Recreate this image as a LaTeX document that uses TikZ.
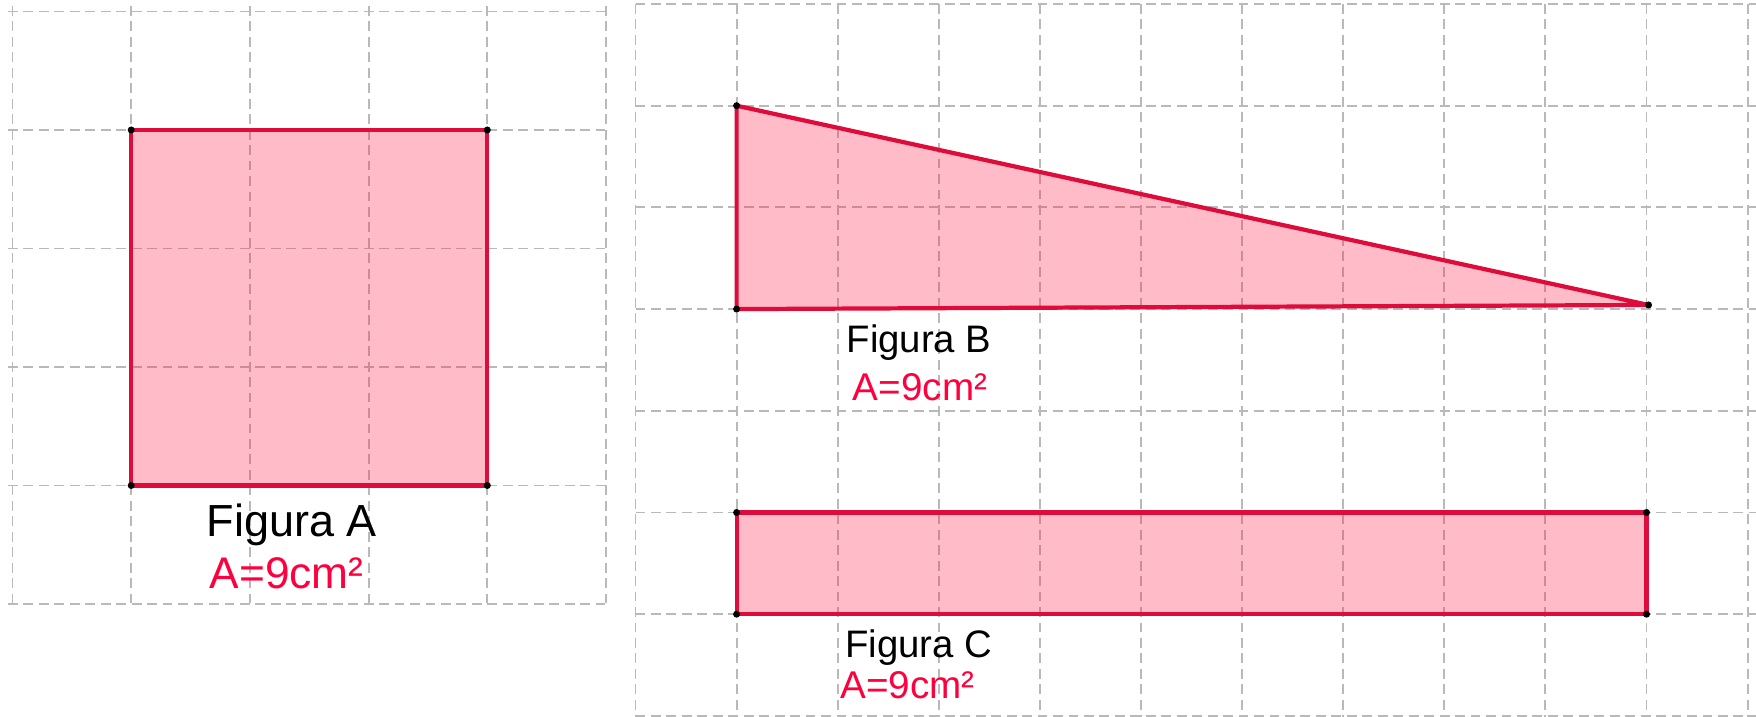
\documentclass[tikz,border=0pt]{standalone}
\usepackage{fontspec}
\setmainfont{Liberation Sans}
\usepackage{xcolor}
\usepackage{tikz}
\definecolor{shapered}{RGB}{222,12,58}
\definecolor{fillred}{RGB}{255,32,72}
\definecolor{labelred}{RGB}{255,0,62}
\definecolor{gridgray}{RGB}{185,185,185}

\begin{document}
\begin{tikzpicture}[line join=round,
  gridline/.style={gridgray,line width=0.55pt,dash pattern=on 2.8pt off 1.6pt},
  figshape/.style={draw=shapered,line width=1.2pt,fill=fillred,fill opacity=0.3,draw opacity=1},
  vertex/.style={fill=black},
  namebig/.style={anchor=base,font=\fontsize{12.8}{15}\selectfont},
  areabig/.style={anchor=base,labelred,font=\fontsize{12.6}{15}\selectfont},
  namesmall/.style={anchor=base,font=\fontsize{10.9}{13}\selectfont},
  areasmall/.style={anchor=base,labelred,font=\fontsize{11}{13}\selectfont}]
  \useasboundingbox (0,0) rectangle (17.56,7.17);
  % left view
  \draw[gridline] (0.125,7.110) -- (0.125,1.080);
  \draw[gridline] (1.312,7.110) -- (1.312,1.080);
  \draw[gridline] (2.499,7.110) -- (2.499,1.080);
  \draw[gridline] (3.686,7.110) -- (3.686,1.080);
  \draw[gridline] (4.873,7.110) -- (4.873,1.080);
  \draw[gridline] (6.060,7.110) -- (6.060,1.080);
  \draw[gridline] (0.080,7.055) -- (6.090,7.055);
  \draw[gridline] (0.080,5.870) -- (6.090,5.870);
  \draw[gridline] (0.080,4.685) -- (6.090,4.685);
  \draw[gridline] (0.080,3.500) -- (6.090,3.500);
  \draw[gridline] (0.080,2.315) -- (6.090,2.315);
  \draw[gridline] (0.080,1.130) -- (6.090,1.130);
  % right view
  \draw[gridline] (6.355,7.130) -- (6.355,0.000);
  \draw[gridline] (7.366,7.130) -- (7.366,0.000);
  \draw[gridline] (8.377,7.130) -- (8.377,0.000);
  \draw[gridline] (9.388,7.130) -- (9.388,0.000);
  \draw[gridline] (10.399,7.130) -- (10.399,0.000);
  \draw[gridline] (11.410,7.130) -- (11.410,0.000);
  \draw[gridline] (12.421,7.130) -- (12.421,0.000);
  \draw[gridline] (13.432,7.130) -- (13.432,0.000);
  \draw[gridline] (14.443,7.130) -- (14.443,0.000);
  \draw[gridline] (15.454,7.130) -- (15.454,0.000);
  \draw[gridline] (16.465,7.130) -- (16.465,0.000);
  \draw[gridline] (17.476,7.130) -- (17.476,0.000);
  \draw[gridline] (6.355,7.130) -- (17.560,7.130);
  \draw[gridline] (6.355,6.113) -- (17.560,6.113);
  \draw[gridline] (6.355,5.096) -- (17.560,5.096);
  \draw[gridline] (6.355,4.079) -- (17.560,4.079);
  \draw[gridline] (6.355,3.062) -- (17.560,3.062);
  \draw[gridline] (6.355,2.045) -- (17.560,2.045);
  \draw[gridline] (6.355,1.028) -- (17.560,1.028);
  \draw[gridline] (6.355,0.011) -- (17.560,0.011);
  % shapes
  \coordinate (A1) at (1.312,5.870);
  \coordinate (A2) at (4.873,5.870);
  \coordinate (A3) at (4.873,2.315);
  \coordinate (A4) at (1.312,2.315);
  \coordinate (B1) at (7.366,6.113);
  \coordinate (B2) at (7.366,4.079);
  \coordinate (B3) at (16.485,4.120);
  \coordinate (C1) at (7.366,2.045);
  \coordinate (C2) at (16.465,2.045);
  \coordinate (C3) at (16.465,1.028);
  \coordinate (C4) at (7.366,1.028);
  \path[figshape] (A1) -- (A2) -- (A3) -- (A4) -- cycle;
  \path[figshape] (B1) -- (B2) -- (B3) -- cycle;
  \path[figshape] (C1) -- (C2) -- (C3) -- (C4) -- cycle;
  \fill[vertex] (A1) circle (1pt);
  \fill[vertex] (A2) circle (1pt);
  \fill[vertex] (A3) circle (1pt);
  \fill[vertex] (A4) circle (1pt);
  \fill[vertex] (B1) circle (1pt);
  \fill[vertex] (B2) circle (1pt);
  \fill[vertex] (B3) circle (1pt);
  \fill[vertex] (C1) circle (1pt);
  \fill[vertex] (C2) circle (1pt);
  \fill[vertex] (C3) circle (1pt);
  \fill[vertex] (C4) circle (1pt);
  % labels
  \node[namebig] (NA) at (2.917,1.803) {Figura A};
  \node[areabig] (SA) at (2.867,1.287) {A=9cm²};
  \node[namesmall] (NB) at (9.190,3.647) {Figura B};
  \node[areasmall] (SB) at (9.200,3.163) {A=9cm²};
  \node[namesmall] (NC) at (9.187,0.593) {Figura C};
  \node[areasmall] (SC) at (9.075,0.183) {A=9cm²};
\end{tikzpicture}
\end{document}
